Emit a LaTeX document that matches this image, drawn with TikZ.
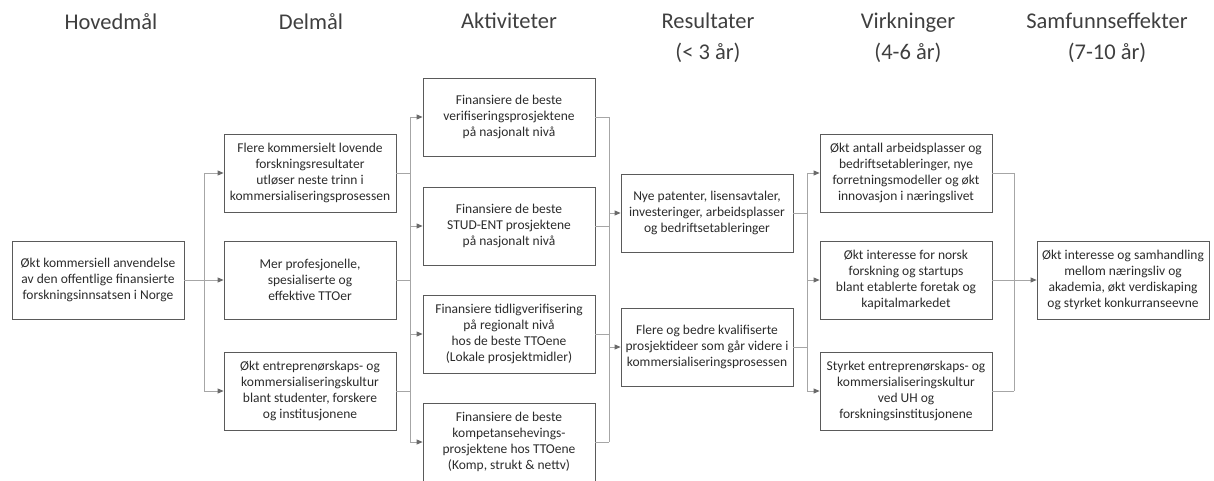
\documentclass[tikz,border=0pt]{standalone}
\usepackage{fontspec}
\setmainfont{Carlito}
\usetikzlibrary{arrows.meta}
\definecolor{txt}{HTML}{2B2B2B}
\definecolor{titletxt}{HTML}{3F3F3F}
\definecolor{boxline}{HTML}{5A5A5A}
\definecolor{connline}{HTML}{A6A6A6}
\definecolor{tipcol}{HTML}{6A6A6A}
\tikzset{
  box/.style={draw=boxline, line width=0.8pt, minimum width=172pt, minimum height=78pt,
    inner sep=1pt, align=center, text=txt, font=\fontsize{13.5}{16}\selectfont},
  title/.style={anchor=north, inner sep=0pt, align=center, text=titletxt,
    font=\fontsize{22.5}{31}\selectfont},
  conn/.style={draw=connline, line width=0.8pt},
  arr/.style={conn, -{Triangle[length=6pt,width=5pt,color=tipcol]}}
}
\begin{document}
\begin{tikzpicture}[x=1pt,y=-1pt]
\useasboundingbox (0,0) rectangle (1214,481);
% titles
\node[title] (t1) at (111,13) {Hovedmål};
\node[title] (t2) at (311,13) {Delmål};
\node[title] (t3) at (509,13) {Aktiviteter};
\node[title] (t4) at (708,13) {Resultater\\(< 3 år)};
\node[title] (t5) at (908,13) {Virkninger\\(4-6 år)};
\node[title] (t6) at (1107,13) {Samfunnseffekter\\(7-10 år)};
% boxes
\node[box] (m) at (98,280) {Økt kommersiell anvendelse\\av den offentlige finansierte\\forskningsinnsatsen i Norge};
\node[box] (d1) at (310,173) {Flere kommersielt lovende\\forskningsresultater\\utløser neste trinn i\\kommersialiseringsprosessen};
\node[box] (d2) at (310,280) {Mer profesjonelle,\\spesialiserte og\\effektive TTOer};
\node[box] (d3) at (310,391) {Økt entreprenørskaps- og\\kommersialiseringskultur\\blant studenter, forskere\\og institusjonene};
\node[box] (a1) at (509,117) {Finansiere de beste\\verifiseringsprosjektene\\på nasjonalt nivå};
\node[box] (a2) at (509,226) {Finansiere de beste\\STUD-ENT prosjektene\\på nasjonalt nivå};
\node[box] (a3) at (509,334) {Finansiere tidligverifisering\\på regionalt nivå\\hos de beste TTOene\\(Lokale prosjektmidler)};
\node[box] (a4) at (509,442) {Finansiere de beste\\kompetansehevings-\\prosjektene hos TTOene\\(Komp, strukt \& nettv)};
\node[box] (r1) at (707,213) {Nye patenter, lisensavtaler,\\investeringer, arbeidsplasser\\og bedriftsetableringer};
\node[box] (r2) at (707,347) {Flere og bedre kvalifiserte\\prosjektideer som går videre i\\kommersialiseringsprosessen};
\node[box] (v1) at (906,173) {Økt antall arbeidsplasser og\\bedriftsetableringer, nye\\forretningsmodeller og økt\\innovasjon i næringslivet};
\node[box] (v2) at (906,280) {Økt interesse for norsk\\forskning og startups\\blant etablerte foretak og\\kapitalmarkedet};
\node[box] (v3) at (906,391) {Styrket entreprenørskaps- og\\kommersialiseringskultur\\ved UH og\\forskningsinstitusjonene};
\node[box] (f) at (1123,280) {Økt interesse og samhandling\\mellom næringsliv og\\akademia, økt verdiskaping\\og styrket konkurranseevne};
% bus coordinates
\coordinate (b1) at (204,0);
\coordinate (b2) at (410,0);
\coordinate (b3) at (609,0);
\coordinate (b4) at (807,0);
\coordinate (b5) at (1014,0);
% main -> delmål
\draw[conn] (m.east) -- (m.east -| b1);
\draw[conn] (b1 |- d1.west) -- (b1 |- d3.west);
\foreach \t in {d1,d2,d3} \draw[arr] (b1 |- \t.west) -- (\t.west);
% delmål -> aktiviteter
\foreach \s in {d1,d2,d3} \draw[conn] (\s.east) -- (\s.east -| b2);
\draw[conn] (b2 |- a1.west) -- (b2 |- a4.west);
\foreach \t in {a1,a2,a3,a4} \draw[arr] (b2 |- \t.west) -- (\t.west);
% aktiviteter -> resultater
\foreach \s in {a1,a2,a3,a4} \draw[conn] (\s.east) -- (\s.east -| b3);
\draw[conn] (b3 |- a1.east) -- (b3 |- a4.east);
\foreach \t in {r1,r2} \draw[arr] (b3 |- \t.west) -- (\t.west);
% resultater -> virkninger
\foreach \s in {r1,r2} \draw[conn] (\s.east) -- (\s.east -| b4);
\draw[conn] (b4 |- v1.west) -- (b4 |- v3.west);
\foreach \t in {v1,v2,v3} \draw[arr] (b4 |- \t.west) -- (\t.west);
% virkninger -> samfunnseffekter
\foreach \s in {v1,v2,v3} \draw[conn] (\s.east) -- (\s.east -| b5);
\draw[conn] (b5 |- v1.east) -- (b5 |- v3.east);
\draw[arr] (b5 |- f.west) -- (f.west);
\end{tikzpicture}
\end{document}
